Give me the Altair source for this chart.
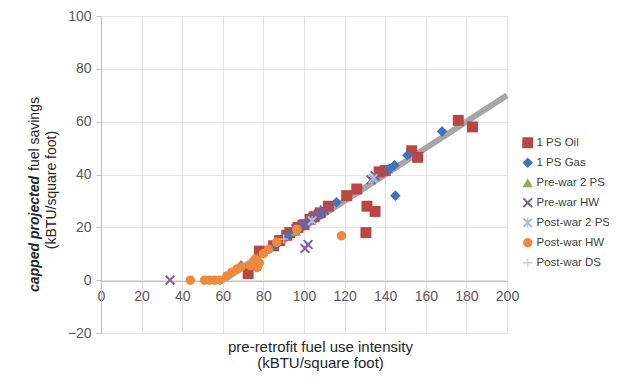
import altair as alt
import pandas as pd

series_names = ["1 PS Oil", "1 PS Gas", "Pre-war 2 PS", "Pre-war HW",
                "Post-war 2 PS", "Post-war HW", "Post-war DS"]
series_colors = ["#BA4643", "#4175BB", "#8FB050", "#7A5E9E",
                 "#A9BCDA", "#EC8B3E", "#CCCCCC"]
X_PATH = ("M-1,-0.72L-0.72,-1L0,-0.28L0.72,-1L1,-0.72L0.28,0L1,0.72L0.72,1"
          "L0,0.28L-0.72,1L-1,0.72L-0.28,0Z")
AST_PATH = X_PATH + "M-0.12,-1H0.12V1H-0.12Z"
PLUS_PATH = "M-0.14,-1H0.14V-0.14H1V0.14H0.14V1H-0.14V0.14H-1V-0.14H-0.14Z"
series_shapes = ["square", "diamond", "triangle-up", X_PATH,
                 AST_PATH, "circle", PLUS_PATH]
series_sizes = [120, 85, 60, 110, 80, 80, 70]

oil_x = [72.5, 78, 85, 88, 91.5, 93, 97, 100, 103, 105, 108, 112, 121, 126,
         130.5, 131, 135, 137, 140, 153, 156, 176, 183]
oil_y = [2.5, 11, 13, 15, 17, 18, 20, 21, 23, 24, 25.5, 28, 32, 34.5,
         18, 28, 26, 41, 41.5, 49, 46.5, 60.5, 58]
gas_x = [69, 86, 92, 100, 108, 116, 142, 144.5, 145, 151, 168]
gas_y = [5.5, 13, 17, 21, 25, 29.5, 42, 43.5, 32, 47.3, 56.3]
pre2ps_x = [96]
pre2ps_y = [18.5]
prehw_x = [34, 96, 99, 100.5, 102, 104, 105.5, 107, 110, 133, 135]
prehw_y = [0, 19.5, 21, 12, 13.5, 23.5, 24.5, 25, 26.5, 38, 39.5]
post2ps_x = [104, 134]
post2ps_y = [22.5, 38.5]
posthw_x = [44, 51, 53.5, 56, 58.5, 62, 64.5, 67, 69, 73.5, 75, 76, 77, 78,
            80, 82.5, 86.5, 96.5, 118.5]
posthw_y = [0, 0, 0, 0, 0, 1.6, 3, 4.2, 5, 5.5, 7, 8, 4.8, 6.5,
            10, 11.7, 14.3, 19.3, 16.8]
postds_x = [90]
postds_y = [15.5]

cap_x = [60, 200]
cap_y = [0, 70]

x_ticks = [0, 20, 40, 60, 80, 100, 120, 140, 160, 180, 200]
y_ticks = [-20, 0, 20, 40, 60, 80, 100]
x_title = ["pre-retrofit fuel use intensity", "(kBTU/square foot)"]
y_title_bold = "capped projected"
y_title_rest = "fuel savings"
y_title_line2 = "(kBTU/square foot)"

all_x = [oil_x, gas_x, pre2ps_x, prehw_x, post2ps_x, posthw_x, postds_x]
all_y = [oil_y, gas_y, pre2ps_y, prehw_y, post2ps_y, posthw_y, postds_y]
rows = []
for name, xs, ys in zip(series_names, all_x, all_y):
    for xv, yv in zip(xs, ys):
        rows.append({"x": xv, "y": yv, "series": name, "kind": name})
pts = pd.DataFrame(rows)
cap = pd.DataFrame({"x": cap_x, "y": cap_y})
one = pd.DataFrame({"a": [0]})

FONT = "Liberation Sans"
x_enc = alt.X("x:Q", scale=alt.Scale(domain=[0, 200], nice=False),
              axis=alt.Axis(values=x_ticks, offset=-52, ticks=False,
                            domainColor="#BFBFBF", gridColor="#E3E3E3",
                            labelFontSize=14, labelColor="#595959",
                            labelPadding=8, labelFlush=False,
                            title=x_title, titleFontSize=15,
                            titleFontWeight="normal", titleColor="#262626",
                            titleX=219, titleY=58, titleBaseline="top",
                            titleLineHeight=16, titleAlign="center"))
y_enc = alt.Y("y:Q", scale=alt.Scale(domain=[-20, 100], nice=False),
              axis=alt.Axis(values=y_ticks, tickSize=5, tickColor="#BFBFBF",
                            domainColor="#BFBFBF", gridColor="#E3E3E3",
                            labelFontSize=14, labelColor="#595959",
                            labelPadding=5, title=None))

leg = alt.Legend(title=None, orient="none", legendX=421, legendY=121,
                 labelFontSize=11.5, labelColor="#404040",
                 symbolSize=18, rowPadding=7, padding=0,
                 labelOffset=3, symbolStrokeWidth=0)

line = alt.Chart(cap).mark_line(color="#A6A6A6", strokeWidth=6,
                                strokeCap="butt").encode(x=x_enc, y=y_enc)

points = alt.Chart(pts).mark_point(filled=True, opacity=1, strokeWidth=0).encode(
    x=x_enc, y=y_enc,
    color=alt.Color("series:N", scale=alt.Scale(domain=series_names, range=series_colors),
                    legend=leg),
    shape=alt.Shape("series:N", scale=alt.Scale(domain=series_names, range=series_shapes),
                    legend=leg),
    size=alt.Size("kind:N", scale=alt.Scale(domain=series_names, range=series_sizes),
                  legend=None),
)

t1 = alt.Chart(one).mark_text(angle=270, align="right", baseline="middle",
                              fontSize=14, fontWeight="bold", fontStyle="italic",
                              color="#262626", font=FONT).encode(
    x=alt.value(-66), y=alt.value(160), text=alt.value(y_title_bold))
t2 = alt.Chart(one).mark_text(angle=270, align="left", baseline="middle",
                              fontSize=14, color="#262626", font=FONT).encode(
    x=alt.value(-66), y=alt.value(155), text=alt.value(y_title_rest))
t3 = alt.Chart(one).mark_text(angle=270, align="center", baseline="middle",
                              fontSize=14, color="#262626", font=FONT).encode(
    x=alt.value(-49), y=alt.value(174), text=alt.value(y_title_line2))

chart = alt.layer(line, points, t1, t2, t3).properties(
    width=406, height=317,
    autosize=alt.AutoSizeParams(type="none"),
    padding={"left": 93, "top": 8, "right": 102, "bottom": 39},
).configure(font=FONT).configure_view(stroke=None)

chart.save("out.html", embed_options={"renderer": "svg", "actions": False})
